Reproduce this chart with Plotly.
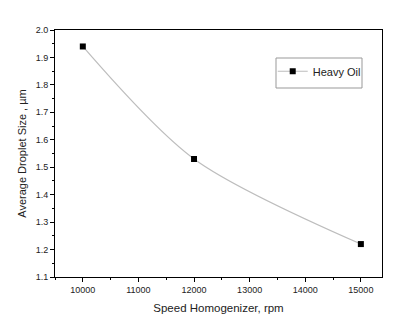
import plotly.graph_objects as go

speed = [10000, 12000, 15000]
droplet = [1.94, 1.53, 1.22]
series_name = "Heavy Oil"

L, T, R, B = 55, 30, 15, 51
W, H = 397, 328
pw, ph = W - L - R, H - T - B

fig = go.Figure()
fig.add_trace(go.Scatter(
    x=speed, y=droplet, mode="lines+markers", name=series_name,
    line=dict(color="#bdbdbd", width=1.2, shape="spline", smoothing=0.85),
    marker=dict(symbol="square", size=6, color="black"),
))

axis_common = dict(
    showline=True, linecolor="black", linewidth=1, mirror=True,
    ticks="outside", ticklen=4, tickcolor="black", tickwidth=1,
    showgrid=False, zeroline=False,
    tickfont=dict(family="Liberation Sans, Arial", size=9, color="#222"),
)

fig.update_xaxes(range=[9500, 15380], tickvals=[10000, 11000, 12000, 13000, 14000, 15000],
                 ticktext=["10000", "11000", "12000", "13000", "14000", "15000"],
                 minor=dict(ticks="outside", ticklen=2, tickcolor="black", dtick=500, tick0=0),
                 title=dict(text="Speed Homogenizer, rpm", standoff=10,
                            font=dict(family="Liberation Sans, Arial", size=11.5, color="#222")),
                 **axis_common)
fig.update_yaxes(range=[1.1, 2.0], tickvals=[1.1, 1.2, 1.3, 1.4, 1.5, 1.6, 1.7, 1.8, 1.9, 2.0],
                 ticktext=["1.1", "1.2", "1.3", "1.4", "1.5", "1.6", "1.7", "1.8", "1.9", "2.0"],
                 minor=dict(ticks="outside", ticklen=2, tickcolor="black", dtick=0.05, tick0=0),
                 title=dict(text="Average Droplet Size , µm", standoff=6,
                            font=dict(family="Liberation Sans, Arial", size=11, color="#222")),
                 **axis_common)

# legend box
bx0, bx1, by0, by1 = 276, 362, 58, 88
fig.add_shape(type="rect", xref="paper", yref="paper",
              x0=(bx0 - L) / pw, x1=(bx1 - L) / pw,
              y0=1 - (by1 - T) / ph, y1=1 - (by0 - T) / ph,
              line=dict(color="#999", width=1), fillcolor="rgba(0,0,0,0)")

fig.update_layout(
    width=W, height=H, margin=dict(l=L, r=R, t=T, b=B),
    paper_bgcolor="white", plot_bgcolor="white",
    showlegend=True,
    legend=dict(x=(bx0 - L) / pw - 0.01, y=1 - (by0 - T) / ph + 0.005, xanchor="left", yanchor="top",
                bgcolor="rgba(0,0,0,0)", borderwidth=0, itemwidth=30,
                font=dict(family="Liberation Sans, Arial", size=11, color="#222")),
)

fig.write_html("out.html")
